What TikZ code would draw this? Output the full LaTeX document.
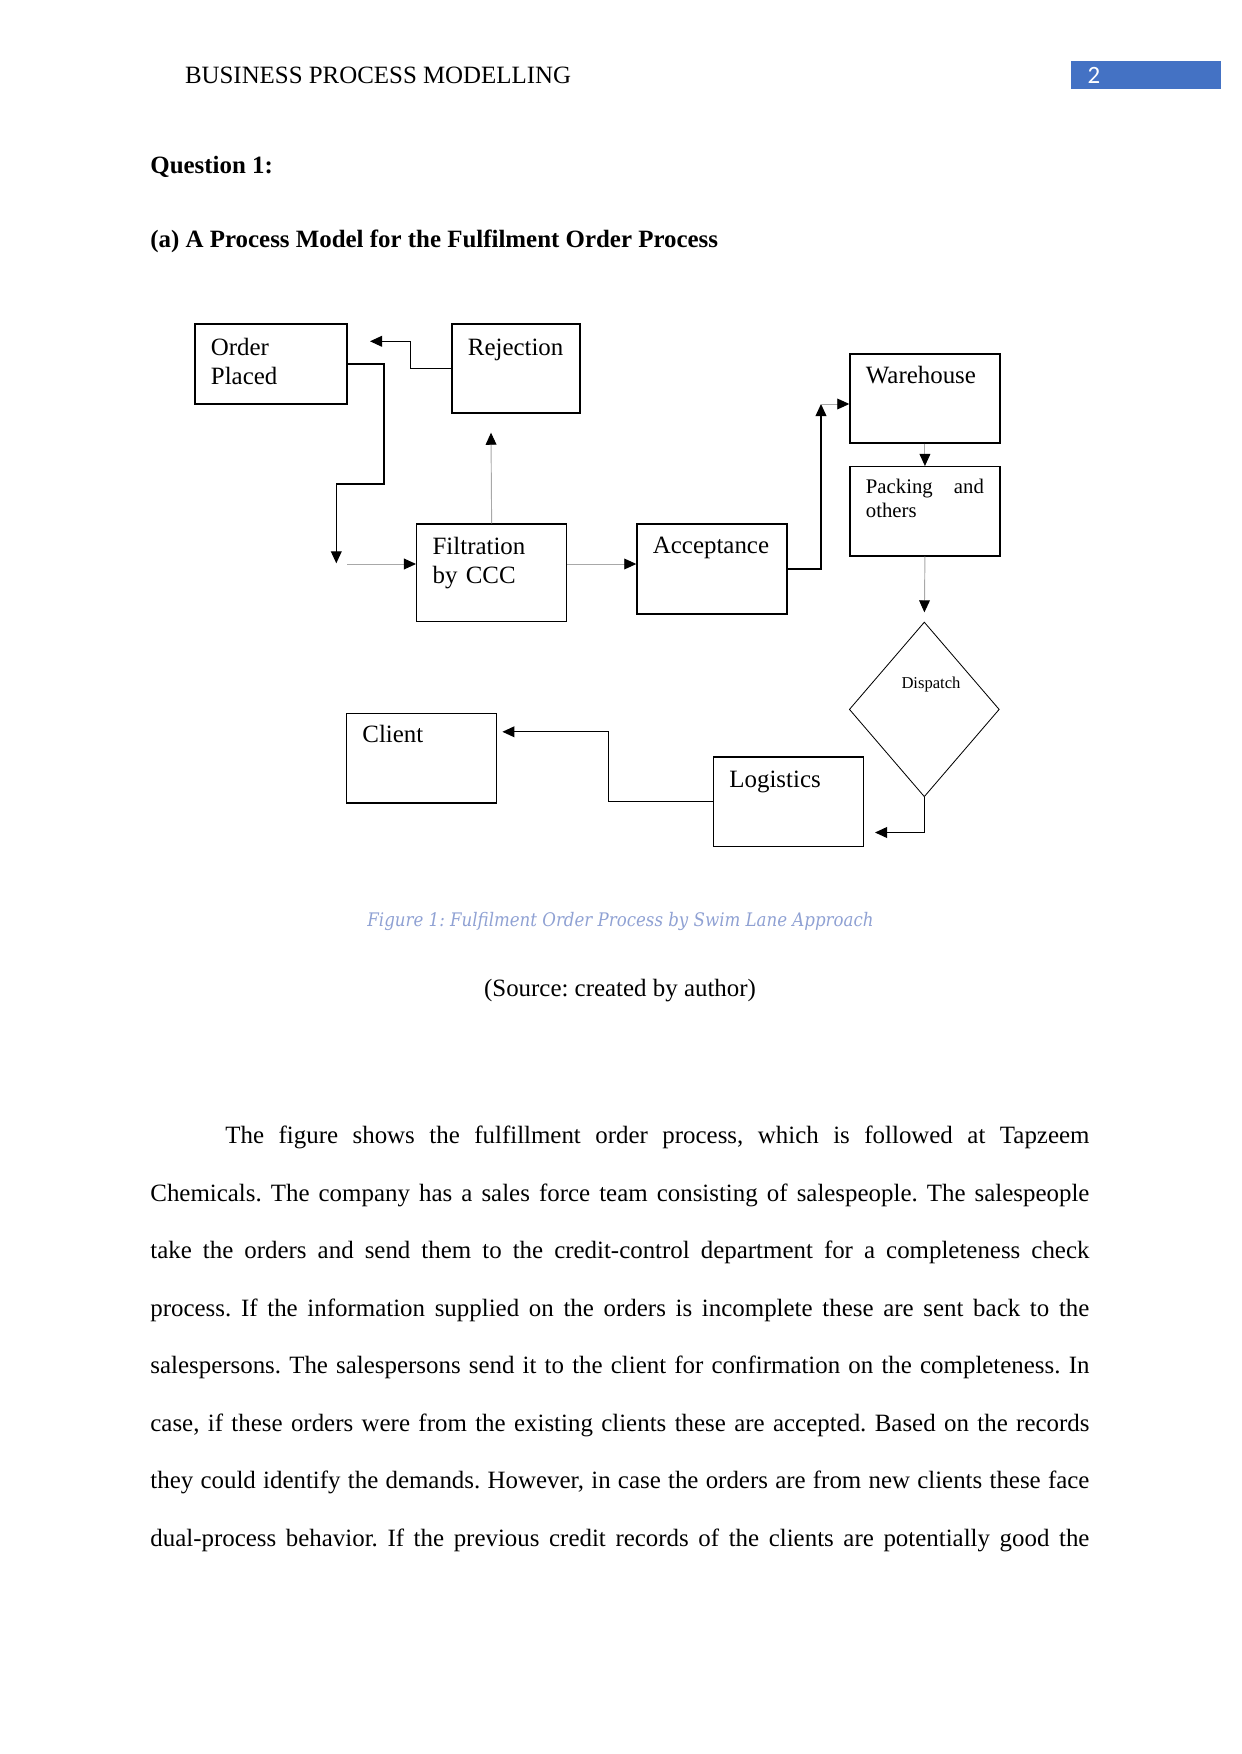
\documentclass[tikz,border=0pt]{standalone}
\usepackage{fontspec}
\setmainfont{Liberation Serif}
\newfontfamily\capfont[FakeStretch=0.89]{DejaVu Serif}
\newfontfamily\numfont{Carlito}
\usetikzlibrary{arrows.meta,shapes.geometric}

% one pixel of the page (150 dpi)
\newdimen\pxunit
\pxunit=0.4818pt

\begin{document}
\frenchspacing
\begin{tikzpicture}[x=\pxunit, y=-\pxunit,
  procbox/.style={draw, line width=0.6pt, anchor=north west, inner xsep=16\pxunit,
    inner ysep=0pt, align=left, font=\fontsize{12}{13.8}\selectfont},
  txtline/.style={anchor=base west, inner sep=0pt, font=\fontsize{12}{13.8}\selectfont},
  blackflow/.style={line width=0.6pt, -{Triangle[length=5.8pt,width=5.2pt]}},
  greyflow/.style={draw=flowGray, line width=0.45pt, -{Triangle[length=5.8pt,width=5.2pt,color=black]}}]

% Colori
\definecolor{pageBlue}{HTML}{4472C4}
\definecolor{flowGray}{HTML}{A8A8A8}
\definecolor{capBlue}{HTML}{8FA1D3}

\useasboundingbox (0,0) rectangle (1241,1754);

% Intestazione
\node[txtline] (header) at (184.6,83.5) {BUSINESS PROCESS MODELLING};
\node[fill=pageBlue, anchor=north west, inner xsep=16.3\pxunit, inner ysep=0pt,
  text width=117.4\pxunit, text height=21.7\pxunit, text depth=5.6\pxunit,
  text=white, align=left, font=\numfont\fontsize{12}{14}\selectfont] (pagenum) at (1071,61) {2};

% Titoli
\node[txtline, font=\fontsize{12}{13.8}\selectfont\bfseries] (question) at (150,174) {Question 1:};
\node[txtline, font=\fontsize{12}{13.8}\selectfont\bfseries] (part) at (150,248) {(a) A Process Model for the Fulfilment Order Process};

% Riquadri
\node[procbox, text width=120\pxunit, text height=31.7\pxunit, text depth=48.3\pxunit] (order) at (194.3,323.3) {Order\\Placed};
\node[procbox, text width=96\pxunit, text height=31.7\pxunit, text depth=57.3\pxunit] (rejection) at (451.3,323.3) {Rejection};
\node[procbox, text width=118\pxunit, text height=30\pxunit, text depth=59\pxunit] (warehouse) at (849.3,353.3) {Warehouse};
\node[procbox, text width=118\pxunit, text height=27.3\pxunit, text depth=62\pxunit,
  font=\fontsize{10}{11.3}\selectfont] (packing) at (849.3,466) {Packing\hfill and\\others};
\node[procbox, text width=118\pxunit, text height=30.7\pxunit, text depth=67\pxunit] (filtration) at (416,523.3) {Filtration\\by CCC};
\node[procbox, text width=118\pxunit, text height=30\pxunit, text depth=60\pxunit] (acceptance) at (636.3,523.3) {Acceptance};
\node[procbox, text width=118\pxunit, text height=29\pxunit, text depth=60.5\pxunit] (client) at (345.8,712.8) {Client};
\node[procbox, text width=118\pxunit, text height=30.3\pxunit, text depth=59.3\pxunit] (logistics) at (712.8,756.4) {Logistics};

% Rombo
\node[draw, diamond, line width=0.4pt, inner sep=0pt, minimum width=150\pxunit,
  minimum height=174.7\pxunit] (dispatch) at (924.3,709.4) {};
\node[txtline, anchor=base, font=\fontsize{8}{9}\selectfont] (dispatchtxt) at (931,688) {Dispatch};

% Punte libere
\coordinate (rejtip) at (370,341.3);
\coordinate (ordtip) at (336.3,563.3);
\coordinate (ordgap) at (347,564);
\coordinate (filttip) at (491,432.7);
\coordinate (acctip) at (821,404);
\coordinate (logtip) at (875,832.5);
\coordinate (clitip) at (502.4,731.8);

% Frecce
\draw[blackflow] (rejection.west) -- ++(-41,0) |- (rejtip);
\draw[blackflow] (order.east) -| (384,484) -| (ordtip);
\draw[greyflow] (ordgap) -- (ordgap -| filtration.west);
\draw[greyflow] (filtration.north) -- (filttip);
\draw[greyflow] (ordgap -| filtration.east) -- (ordgap -| acceptance.west);
\draw[blackflow] (acceptance.east) -| (acctip);
\draw[greyflow] (acctip) -- (acctip -| warehouse.west);
\draw[greyflow] (warehouse.south) -- (packing.north);
\draw[greyflow, shorten >=9.3\pxunit] (packing.south) -- (dispatch.north);
\draw[blackflow] (dispatch.south) |- (logtip);
\draw[blackflow] (logistics.west) -- ++(-104.2,0) |- (clitip);

% Didascalia
\node[anchor=base, inner sep=0pt, text=capBlue, font=\capfont\itshape\fontsize{9}{11}\selectfont] (caption) at (620.5,926) {Figure 1: Fulfilment Order Process by Swim Lane Approach};
\node[txtline, anchor=base] (source) at (620,996) {(Source: created by author)};

% Testo
\node[txtline] (body1) at (225,1143.5) {\makebox[864\pxunit][s]{The figure shows the fulfillment order process, which is followed at Tapzeem}};
\node[txtline] (body2) at (150,1201) {\makebox[939\pxunit][s]{Chemicals. The company has a sales force team consisting of salespeople. The salespeople}};
\node[txtline] (body3) at (150,1258.5) {\makebox[939\pxunit][s]{take the orders and send them to the credit-control department for a completeness check}};
\node[txtline] (body4) at (150,1316) {\makebox[939\pxunit][s]{process. If the information supplied on the orders is incomplete these are sent back to the}};
\node[txtline] (body5) at (150,1373.5) {\makebox[939\pxunit][s]{salespersons. The salespersons send it to the client for confirmation on the completeness. In}};
\node[txtline] (body6) at (150,1431) {\makebox[939\pxunit][s]{case, if these orders were from the existing clients these are accepted. Based on the records}};
\node[txtline] (body7) at (150,1488.5) {\makebox[939\pxunit][s]{they could identify the demands. However, in case the orders are from new clients these face}};
\node[txtline] (body8) at (150,1546) {\makebox[939\pxunit][s]{dual-process behavior. If the previous credit records of the clients are potentially good the}};

\end{tikzpicture}
\end{document}
